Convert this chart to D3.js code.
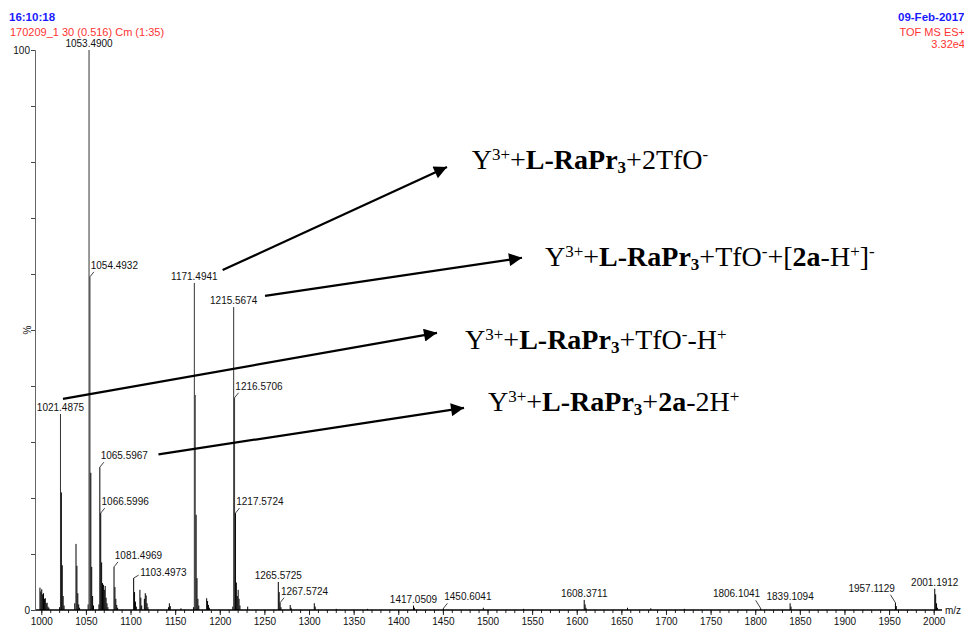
<!DOCTYPE html>
<html><head><meta charset="utf-8">
<script src="https://cdn.jsdelivr.net/npm/d3@7/dist/d3.min.js"></script>
<style>html,body{margin:0;padding:0;background:#fff;overflow:hidden}svg{display:block}</style>
</head><body>
<svg id="chart" width="964" height="626"></svg>
<script>
// ---------------- DATA ----------------
const peakMz = [
  998.5, 999.5, 1000.5, 1001.5, 1002.5, 1003.5, 1004.5, 1005.5, 1006.5, 1007.5, 1008.5,
  1020.5, 1021.4875, 1022.49, 1023.49, 1024.49, 1025.49,
  1037.5, 1038.9, 1039.9, 1040.9, 1041.9, 1042.9,
  1052.5, 1053.49, 1054.4932, 1055.49, 1056.49, 1057.49, 1058.5,
  1064.6, 1065.5967, 1066.5996, 1067.6, 1068.6, 1069.6, 1070.6, 1071.6, 1072.6, 1073.6, 1074.6,
  1081.4969, 1082.5, 1083.5, 1084.5, 1085.5,
  1103.4973, 1104.5, 1105.5, 1106.5,
  1110.5, 1111.5, 1112.5, 1115.5, 1116.5, 1117.5, 1118.5, 1119.5,
  1142.5, 1143.5, 1144.5, 1156.5,
  1170.5, 1171.4941, 1172.49, 1173.49, 1174.49, 1175.49, 1176.5,
  1185.3, 1186.3, 1187.3, 1188.3,
  1214.6, 1215.5674, 1216.5706, 1217.5724, 1218.57, 1219.6, 1220.6, 1221.6, 1222.6,
  1231.3, 1265.5725, 1266.57, 1267.5724, 1268.57, 1278.9, 1279.9, 1305.9, 1306.9,
  1330.5, 1365.5, 1417.0509, 1418.05, 1450.6041, 1495.3, 1540.5,
  1608.3711, 1609.37, 1610.37, 1656.9, 1683.0, 1720.5,
  1806.1041, 1839.1094, 1840.1, 1957.1129, 1958.1, 2001.1912, 2002.2, 2003.2, 2004.2
];
const peakInt = [
  4.0, 3.3, 3.7, 2.8, 3.0, 2.0, 2.1, 1.2, 1.3, 0.6, 0.4,
  0.5, 35.0, 21.0, 8.0, 2.5, 0.8,
  1.2, 11.8, 7.9, 3.0, 1.0, 0.4,
  1.0, 100, 59.5, 24.5, 7.7, 2.5, 0.8,
  1.0, 25.5, 17.3, 8.5, 4.8, 4.5, 3.6, 4.3, 2.2, 1.2, 0.5,
  7.7, 4.1, 2.0, 0.9, 0.4,
  5.7, 3.2, 1.5, 0.6,
  3.6, 2.2, 0.8, 2.0, 3.0, 2.6, 1.2, 0.5,
  0.5, 1.2, 0.7, 0.3,
  0.5, 58.4, 38.4, 17.0, 5.7, 2.0, 0.8,
  2.1, 1.6, 0.9, 0.4,
  0.6, 54.1, 37.9, 17.3, 4.9, 2.5, 3.6, 2.0, 0.8,
  0.6, 5.0, 3.2, 1.3, 0.5, 0.9, 0.4, 1.2, 0.6,
  0.2, 0.2, 0.8, 0.4, 0.3, 0.4, 0.2,
  1.8, 1.0, 0.4, 0.4, 0.3, 0.2,
  0.3, 1.2, 0.6, 1.3, 0.7, 3.8, 2.8, 1.2, 0.4
];
// labelled peaks and where their label sits relative to the peak
const labelMz = [1053.49, 1054.4932, 1021.4875, 1065.5967, 1066.5996, 1081.4969, 1103.4973,
  1171.4941, 1215.5674, 1216.5706, 1217.5724, 1265.5725, 1267.5724, 1417.0509, 1450.6041,
  1608.3711, 1806.1041, 1839.1094, 1957.1129, 2001.1912];
const labelText = ["1053.4900", "1054.4932", "1021.4875", "1065.5967", "1066.5996", "1081.4969", "1103.4973",
  "1171.4941", "1215.5674", "1216.5706", "1217.5724", "1265.5725", "1267.5724", "1417.0509", "1450.6041",
  "1608.3711", "1806.1041", "1839.1094", "1957.1129", "2001.1912"];
const labelSide = ["top", "right", "top", "right", "right", "right", "far",
  "top", "top", "right", "right", "top", "right", "top", "right",
  "top", "left", "top", "left", "top"];

const xMajorTicks = d3.range(1000, 2001, 50);
const xMinorTicks = d3.range(1000, 2001, 10);
const yTicks = d3.range(0, 101, 10);
const yTickLabels = {0: "0", 100: "100"};

const headerLeft = ["16:10:18", "170209_1 30 (0.516) Cm (1:35)"];
const headerRight = ["09-Feb-2017", "TOF MS ES+", "3.32e4"];

// annotation texts: [text, style]  n=normal b=bold sup=superscript bsub=bold subscript
const annotText = [
  [["Y","n"],["3+","sup"],["+","n"],["L-RaPr","b"],["3","bsub"],["+2TfO","n"],["-","sup"]],
  [["Y","n"],["3+","sup"],["+","n"],["L-RaPr","b"],["3","bsub"],["+TfO","n"],["-","sup"],["+[","n"],["2a","b"],["-H","n"],["+","sup"],["]","n"],["-","sup"]],
  [["Y","n"],["3+","sup"],["+","n"],["L-RaPr","b"],["3","bsub"],["+TfO","n"],["-","sup"],["-H","n"],["+","sup"]],
  [["Y","n"],["3+","sup"],["+","n"],["L-RaPr","b"],["3","bsub"],["+","n"],["2a","b"],["-2H","n"],["+","sup"]]
];

// ---------------- LAYOUT (data coordinates for callouts) ----------------
const calloutLayout = [
  {from: [1203.2, 60.7], to: [1454.6, 79.1], text: [1482.3, 78.7]},
  {from: [1250.7, 56.1], to: [1538.7, 62.9], text: [1564.4, 61.4]},
  {from: [1024.3, 37.7], to: [1443.4, 49.5], text: [1474.8, 46.6]},
  {from: [1131.3, 27.8], to: [1473.7, 36.1], text: [1500.5, 35.5]}
];

// ---------------- DRAW ----------------
const svg = d3.select("#chart");
const sans = "'Liberation Sans', Arial, Helvetica, sans-serif";
const serif = "'Liberation Serif', 'Times New Roman', Times, serif";

const x = d3.scaleLinear().domain([1000, 2000]).range([41.3, 933.7]);
const y = d3.scaleLinear().domain([0, 100]).range([610, 50]);

// header
const hl = svg.append("g").attr("font-family", sans);
hl.append("text").attr("x", 9).attr("y", 20.5).attr("font-size", 11.5).attr("font-weight", "bold")
  .attr("fill", "#1a1aff").text(headerLeft[0]);
hl.append("text").attr("x", 10).attr("y", 36).attr("font-size", 11)
  .attr("fill", "#ff3333").text(headerLeft[1]);
hl.append("text").attr("x", 898).attr("y", 20.5).attr("font-size", 11.5).attr("font-weight", "bold")
  .attr("fill", "#1a1aff").text(headerRight[0]);
hl.append("text").attr("x", 965).attr("y", 36).attr("font-size", 11).attr("text-anchor", "end")
  .attr("fill", "#ff3333").text(headerRight[1]);
hl.append("text").attr("x", 965).attr("y", 47.5).attr("font-size", 11).attr("text-anchor", "end")
  .attr("fill", "#ff3333").text(headerRight[2]);

// peaks
const peaks = peakMz.map((m, i) => ({mz: m, v: peakInt[i]}));
svg.append("g").selectAll("line").data(peaks).join("line")
  .attr("x1", d => x(d.mz)).attr("x2", d => x(d.mz))
  .attr("y1", y(0)).attr("y2", d => y(d.v))
  .attr("stroke", d => d.v > 30 ? "#333" : "#000").attr("stroke-width", 1);

// x axis
const xMinor = d3.axisBottom(x).tickValues(xMinorTicks).tickSize(3).tickFormat("");
const xMajor = d3.axisBottom(x).tickValues(xMajorTicks).tickSize(5).tickPadding(3).tickFormat(d3.format("d"));
const gxm = svg.append("g").attr("transform", `translate(0,${y(0)})`).call(xMinor);
const gx = svg.append("g").attr("transform", `translate(0,${y(0)})`).call(xMajor);
[gxm, gx].forEach(g => {
  g.select(".domain").remove();
  g.selectAll(".tick line").attr("stroke", "#222");
});
gx.selectAll(".tick text").attr("font-family", sans).attr("font-size", 10).attr("fill", "#111");
svg.append("line").attr("x1", 35).attr("x2", 942).attr("y1", y(0)).attr("y2", y(0))
  .attr("stroke", "#000").attr("stroke-width", 1.6);
svg.append("text").attr("x", 945).attr("y", 614).attr("font-family", sans).attr("font-size", 10)
  .attr("fill", "#111").text("m/z");

// y axis
const yAxis = d3.axisLeft(y).tickValues(yTicks).tickSize(4).tickPadding(1)
  .tickFormat(d => yTickLabels[d] || "");
const gy = svg.append("g").attr("transform", "translate(35,0)").call(yAxis);
gy.select(".domain").attr("stroke", "#666");
gy.selectAll(".tick line").attr("stroke", "#444");
gy.selectAll(".tick text").attr("font-family", sans).attr("font-size", 10).attr("fill", "#111");
svg.append("text").attr("transform", `translate(31,${y(50)}) rotate(-90)`)
  .attr("text-anchor", "middle").attr("font-family", sans).attr("font-size", 10)
  .attr("fill", "#111").text("%");

// peak labels
const peakVal = m => {
  let best = peaks[0];
  peaks.forEach(p => { if (Math.abs(p.mz - m) < Math.abs(best.mz - m)) best = p; });
  return best.v;
};
const lg = svg.append("g").attr("font-family", sans).attr("font-size", 10).attr("fill", "#111");
labelMz.forEach((m, i) => {
  const px = x(m), py = y(peakVal(m)), side = labelSide[i];
  if (side === "top") {
    lg.append("text").attr("x", px).attr("y", py - 3).attr("text-anchor", "middle").text(labelText[i]);
  } else if (side === "right") {
    lg.append("line").attr("x1", px).attr("y1", py).attr("x2", px + 4).attr("y2", py - 5)
      .attr("stroke", "#111").attr("stroke-width", 0.8);
    lg.append("text").attr("x", px + 0.8).attr("y", py - 8).text(labelText[i]);
  } else if (side === "far") {
    lg.append("line").attr("x1", px).attr("y1", py).attr("x2", px + 5).attr("y2", py - 3)
      .attr("stroke", "#111").attr("stroke-width", 0.8);
    lg.append("text").attr("x", px + 6.5).attr("y", py - 2.5).text(labelText[i]);
  } else {
    lg.append("line").attr("x1", px).attr("y1", py).attr("x2", px - 5).attr("y2", py - 8)
      .attr("stroke", "#111").attr("stroke-width", 0.8);
    lg.append("text").attr("x", px - 0.5).attr("y", py - 11).attr("text-anchor", "end").text(labelText[i]);
  }
});

// callout arrows
const defs = svg.append("defs");
defs.append("marker").attr("id", "ah").attr("viewBox", "0 0 10 10").attr("refX", 10).attr("refY", 5)
  .attr("markerUnits", "userSpaceOnUse").attr("markerWidth", 15).attr("markerHeight", 13)
  .attr("orient", "auto")
  .append("path").attr("d", "M0,0 L10,5 L0,10 z").attr("fill", "#000");
calloutLayout.forEach(c => {
  svg.append("line")
    .attr("x1", x(c.from[0])).attr("y1", y(c.from[1]))
    .attr("x2", x(c.to[0])).attr("y2", y(c.to[1]))
    .attr("stroke", "#000").attr("stroke-width", 2.2).attr("marker-end", "url(#ah)");
});

// callout texts
const FS = 28, SFS = 17;
annotText.forEach((segs, i) => {
  const c = calloutLayout[i];
  const t = svg.append("text").attr("x", x(c.text[0])).attr("y", y(c.text[1]))
    .attr("font-family", serif).attr("font-size", FS).attr("fill", "#000");
  let shift = 0;
  segs.forEach(([s, st]) => {
    let target = 0, fs = FS, fw = "normal";
    if (st === "sup") { target = -9; fs = SFS; }
    if (st === "bsub") { target = 4; fs = SFS; fw = "bold"; }
    if (st === "b") fw = "bold";
    t.append("tspan").attr("dy", target - shift).attr("font-size", fs).attr("font-weight", fw).text(s);
    shift = target;
  });
});
</script>
</body></html>
